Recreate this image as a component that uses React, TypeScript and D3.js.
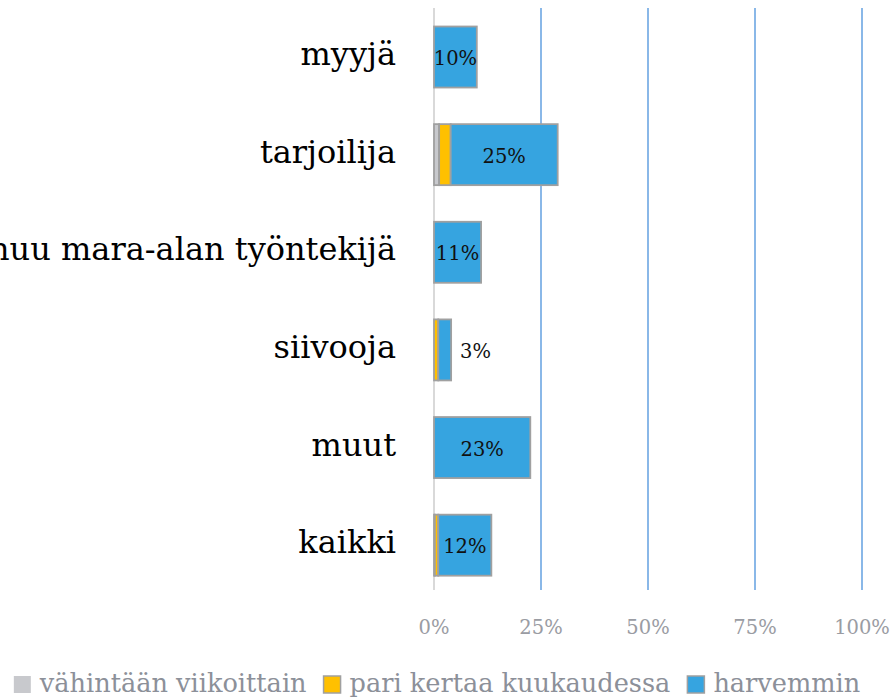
import React, { useEffect, useRef } from "react";
import * as d3 from "d3";

const categories = ["myyjä", "tarjoilija", "muu mara-alan työntekijä", "siivooja", "muut", "kaikki"];
const seriesNames = ["vähintään viikoittain", "pari kertaa kuukaudessa", "harvemmin"];
const weekly = [0, 1.2, 0, 0, 0, 0.2];
const monthly = [0, 2.7, 0, 1, 0, 0.8];
const rarely = [10, 25, 11, 3, 22.5, 12.4];
const ticks = [0, 25, 50, 75, 100];
const colors = ["#c8c9cd", "#ffc000", "#36a4e0"];

const W = 895;
const H = 700;
const FONT = "'DejaVu Serif', serif";

export default function App() {
  const ref = useRef<SVGSVGElement>(null);
  useEffect(() => {
    const svg = d3.select(ref.current);
    svg.selectAll("*").remove();
    const x = d3.scaleLinear().domain([0, 100]).range([434, 862]);
    const y = d3.scaleBand<string>().domain(categories).range([8.2, 594]).paddingInner(0.375).paddingOuter(0.1875);

    // gridlines
    svg.append("g").selectAll("line").data(ticks.slice(1)).join("line")
      .attr("x1", d => x(d)).attr("x2", d => x(d)).attr("y1", 8).attr("y2", 590)
      .attr("stroke", "#8ab8e8").attr("stroke-width", 2);
    svg.append("line").attr("x1", x(0)).attr("x2", x(0)).attr("y1", 8).attr("y2", 590)
      .attr("stroke", "#d9d9d9").attr("stroke-width", 2);

    const series = [weekly, monthly, rarely];
    const rows = categories.map((c, i) => ({ c, vals: series.map(s => s[i]) }));
    const g = svg.append("g");
    rows.forEach(r => {
      let acc = 0;
      r.vals.forEach((v, k) => {
        if (v > 0) {
          g.append("rect")
            .attr("x", x(acc)).attr("y", y(r.c)!)
            .attr("width", x(acc + v) - x(acc)).attr("height", y.bandwidth())
            .attr("fill", colors[k]).attr("stroke", "#a0a0a0").attr("stroke-width", 1.8);
        }
        acc += v;
      });
      const start = r.vals[0] + r.vals[1];
      const v = r.vals[2];
      const w = x(start + v) - x(start);
      const cy = y(r.c)! + y.bandwidth() / 2;
      const t = g.append("text").text(Math.round(v) + "%")
        .attr("font-family", FONT).attr("font-size", 19.5).attr("fill", "#111")
        .attr("y", cy + 8);
      if (w > 30) {
        t.attr("x", (x(start) + x(start + v)) / 2).attr("text-anchor", "middle");
      } else {
        t.attr("x", x(start + v) + 9).attr("text-anchor", "start");
      }
    });

    // category labels
    svg.append("g").selectAll("text").data(categories).join("text")
      .text(d => d).attr("x", 396).attr("y", d => y(d)! + y.bandwidth() / 2 + 8)
      .attr("text-anchor", "end").attr("font-family", FONT).attr("font-size", 32).attr("fill", "#000");

    // tick labels
    svg.append("g").selectAll("text").data(ticks).join("text")
      .text(d => d + "%").attr("x", d => x(d)).attr("y", 634)
      .attr("text-anchor", "middle").attr("font-family", FONT).attr("font-size", 19.5).attr("fill", "#9a9ca3");

    // legend
    const lg = svg.append("g");
    const items = seriesNames.map((n, i) => {
      const it = lg.append("g");
      it.append("rect").attr("x", 0).attr("y", 676).attr("width", 17).attr("height", 17)
        .attr("fill", colors[i]).attr("stroke", i === 0 ? "none" : "#a0a0a0").attr("stroke-width", 1.5);
      const t = it.append("text").text(n).attr("x", 26).attr("y", 692)
        .attr("font-family", FONT).attr("font-size", 25.6).attr("fill", "#8c9099");
      const tw = (t.node() as SVGTextElement).getComputedTextLength();
      return { it, w: 26 + tw };
    });
    const gap = 17;
    const total = items.reduce((s, d) => s + d.w, 0) + gap * (items.length - 1);
    let cx = 437 - total / 2;
    items.forEach(d => {
      d.it.attr("transform", `translate(${cx},0)`);
      cx += d.w + gap;
    });
  }, []);
  return (
    <svg ref={ref} width={W} height={H} style={{ position: "absolute", left: 0, top: 0, background: "#fff" }} />
  );
}
